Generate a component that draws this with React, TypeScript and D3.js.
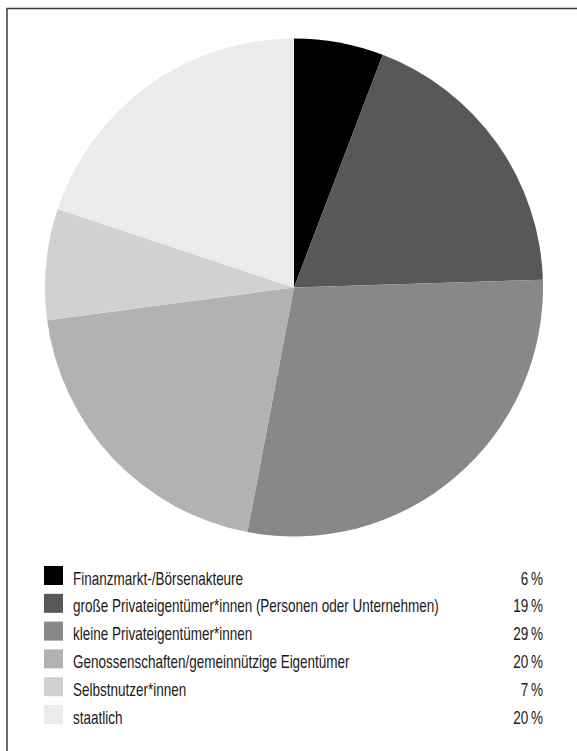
import React from 'react'
import * as d3 from 'd3'

// --- data ---
const categories = [
  'Finanzmarkt-/Börsenakteure',
  'große Privateigentümer*innen (Personen oder Unternehmen)',
  'kleine Privateigentümer*innen',
  'Genossenschaften/gemeinnützige Eigentümer',
  'Selbstnutzer*innen',
  'staatlich',
]
const shares = [5.8, 18.7, 28.5, 19.9, 7.2, 19.9]
const shareLabels = ['6', '19', '29', '20', '7', '20']
const colors = ['#000000', '#575958', '#878887', '#b1b3b3', '#d0d1d1', '#ebebeb']

const W = 577
const H = 751
// no condensed face installed -> squeeze Liberation Sans horizontally
const FONT = '"Liberation Sans", Arial, sans-serif'
const SQUEEZE = 0.75

export default function App() {
  const cx = 294
  const cy = 287.5
  const radius = 249

  const pie = d3.pie<number>().sort(null).value(d => d)
  const arcs = pie(shares)
  const arc = d3.arc<d3.PieArcDatum<number>>().innerRadius(0).outerRadius(radius)

  // legend rows
  const rowY = d3.scaleLinear().domain([0, categories.length - 1]).range([566, 705])
  const swatch = 19

  return (
    <svg
      width={W}
      height={H}
      style={{ position: 'absolute', left: 0, top: 0, background: '#fff' }}
    >
      <rect x={7} y={8.5} width={W + 20} height={H + 20} fill="none" stroke="#3a3a3a" strokeWidth={1.5} />

      <g transform={`translate(${cx},${cy})`}>
        {arcs.map((a, i) => (
          <path key={i} d={arc(a) || ''} fill={colors[i]} />
        ))}
      </g>

      <g fontFamily={FONT} fontSize={18} fill="#1a1a1a">
        {categories.map((c, i) => (
          <g key={c} transform={`translate(0,${rowY(i)})`}>
            <rect x={44} y={0} width={swatch} height={swatch} fill={colors[i]} />
            <text transform={`translate(73,${swatch - 0.5}) scale(${SQUEEZE},1)`}>{c}</text>
            <text transform={`translate(543,${swatch - 0.5}) scale(${SQUEEZE},1)`} textAnchor="end">
              {shareLabels[i]}{'\u2009'}%
            </text>
          </g>
        ))}
      </g>
    </svg>
  )
}
